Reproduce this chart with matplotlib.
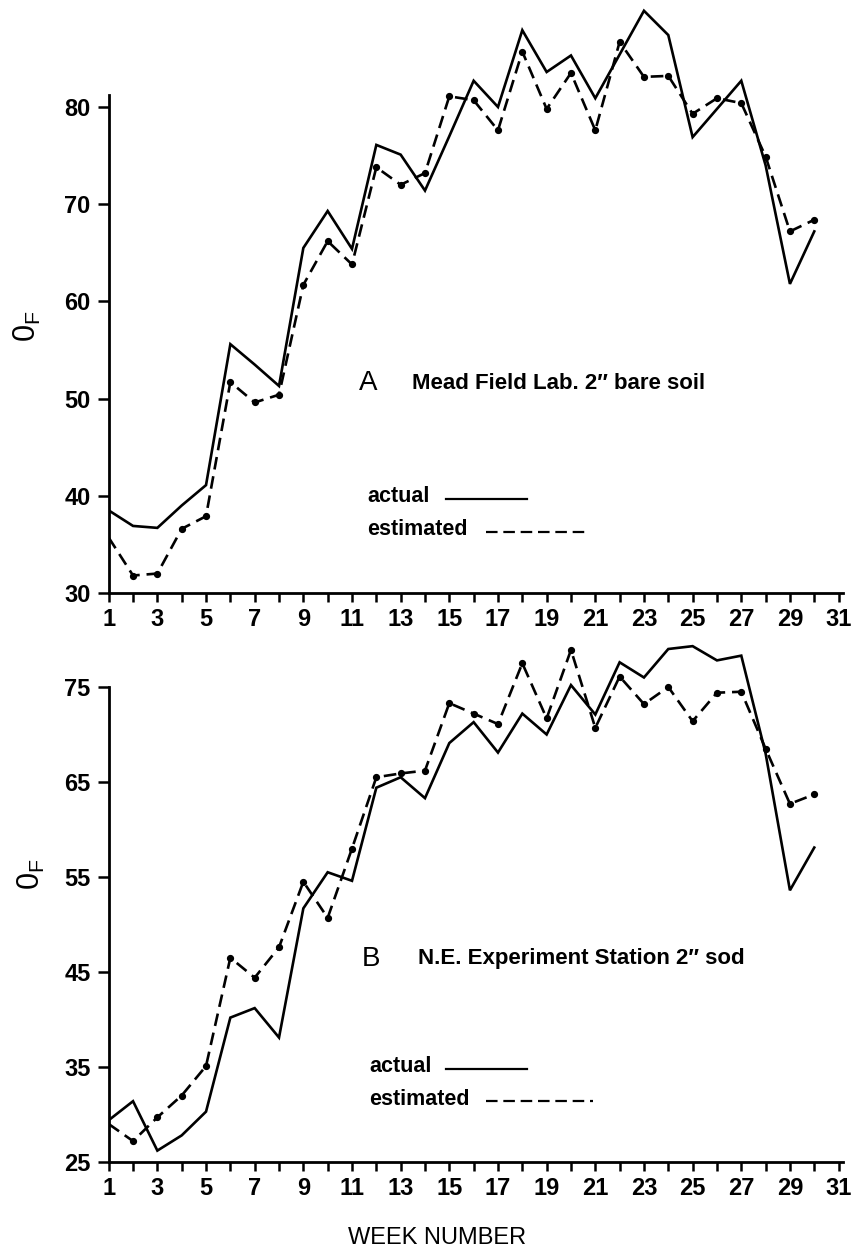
import matplotlib
matplotlib.use("Agg")
import matplotlib.pyplot as plt

plt.rcParams['font.family'] = ['Liberation Sans', 'DejaVu Sans']

# week numbers and soil temperatures (deg F)
weeks = list(range(1, 31))

mead_actual = [38.5, 36.9, 36.7, 39.0, 41.1, 55.6, 53.5, 51.3, 65.5, 69.3,
               65.4, 76.1, 75.1, 71.4, 77.0, 82.7, 80.0, 87.9, 83.6, 85.3,
               80.9, 85.4, 89.9, 87.4, 76.9, 79.8, 82.7, 74.0, 61.8, 67.2]
mead_estimated = [35.7, 31.8, 32.0, 36.6, 37.9, 51.7, 49.6, 50.4, 61.7, 66.2,
                  63.8, 73.8, 72.0, 73.2, 81.1, 80.7, 77.6, 85.7, 79.8, 83.5,
                  77.6, 86.7, 83.1, 83.2, 79.3, 80.9, 80.4, 74.9, 67.2, 68.4]

ne_actual = [29.4, 31.4, 26.2, 27.8, 30.3, 40.2, 41.2, 38.1, 51.7, 55.5,
             54.6, 64.4, 65.5, 63.3, 69.1, 71.3, 68.1, 72.2, 70.0, 75.2,
             72.1, 77.6, 76.0, 79.0, 79.3, 77.8, 78.3, 68.0, 53.6, 58.1]
ne_estimated = [29.0, 27.2, 29.7, 32.0, 35.1, 46.5, 44.4, 47.6, 54.5, 50.7,
                58.0, 65.5, 65.9, 66.2, 73.3, 72.2, 71.1, 77.5, 71.7, 78.9,
                70.7, 76.1, 73.2, 75.0, 71.4, 74.4, 74.5, 68.5, 62.7, 63.7]

x_ticks = list(range(1, 32))
x_labels = [str(w) if w % 2 == 1 else '' for w in x_ticks]
top_yticks = [30, 40, 50, 60, 70, 80]
bottom_yticks = [25, 35, 45, 55, 65, 75]

W, H = 855, 1254
fig = plt.figure(figsize=(W / 100, H / 100), dpi=100)
fig.patch.set_facecolor('white')

left = 108.7 / W
width = 30.2 * 24.33 / W


def style_axis(ax, yticks, spine_top):
    ax.set_xlim(1, 31.2)
    for s in ('top', 'right'):
        ax.spines[s].set_visible(False)
    ax.spines['left'].set_linewidth(2.0)
    ax.spines['bottom'].set_linewidth(2.0)
    ax.spines['left'].set_bounds(yticks[0], spine_top)
    ax.spines['bottom'].set_bounds(1, 31.2)
    ax.set_xticks(x_ticks)
    ax.set_xticklabels(x_labels)
    ax.set_yticks(yticks)
    ax.tick_params(axis='x', direction='out', length=6.5, width=1.8, pad=4,
                   labelsize=17)
    ax.tick_params(axis='y', direction='out', length=8, width=1.8, pad=5,
                   labelsize=17)
    for lab in ax.get_xticklabels() + ax.get_yticklabels():
        lab.set_fontweight('bold')


def draw_panel(ax, actual, estimated, letter, title, pos):
    ax.plot(weeks, actual, color='black', lw=1.9, solid_joinstyle='miter')
    ax.plot(weeks, estimated, color='black', lw=1.9, linestyle='--',
            dashes=(4.8, 2.6), marker='o', markersize=4.2,
            markevery=slice(1, None))
    ax.text(pos['letter_x'], pos['letter_y'], letter, fontsize=20,
            ha='left', va='center')
    ax.text(pos['title_x'], pos['letter_y'], title, fontsize=16,
            fontweight='bold', ha='left', va='center')
    # hand-made key: label first, then the line sample
    ax.text(pos['key_x'], pos['key_y'][0], 'actual', fontsize=15.5,
            fontweight='bold', ha='left', va='center')
    ax.text(pos['key_x'], pos['key_y'][1], 'estimated', fontsize=15.5,
            fontweight='bold', ha='left', va='center')
    ax.plot(pos['solid_x'], [pos['key_y'][0] - 0.2] * 2, color='black',
            lw=1.6)
    ax.plot(pos['dash_x'], [pos['key_y'][1] - 0.2] * 2, color='black',
            lw=1.6, linestyle='--', dashes=(5.2, 2.6))
    ax.text(pos['ylab_x'], pos['ylab_y'], r'$\mathregular{0_F}$',
            transform=ax.transAxes, rotation=90, fontsize=22,
            ha='center', va='center')


# Panel A: Mead Field Lab
ax1 = fig.add_axes([left, 1 - 593 / H, width, 61 * 9.72 / H])
ax1.set_ylim(30, 91)
style_axis(ax1, top_yticks, 81.2)
draw_panel(ax1, mead_actual, mead_estimated, 'A',
           'Mead Field Lab. 2\u2033 bare soil',
           dict(letter_x=11.3, letter_y=51.6, title_x=13.47,
                key_x=11.62, key_y=(39.9, 36.5),
                solid_x=(14.85, 18.2), dash_x=(16.5, 20.8),
                ylab_x=-0.11, ylab_y=0.45))

# Panel B: N.E. Experiment Station
ax2 = fig.add_axes([left, 1 - 1162 / H, width, 56 * 9.5 / H])
ax2.set_ylim(25, 81)
style_axis(ax2, bottom_yticks, 75)
draw_panel(ax2, ne_actual, ne_estimated, 'B',
           'N.E. Experiment Station 2\u2033 sod',
           dict(letter_x=11.4, letter_y=46.4, title_x=13.7,
                key_x=11.7, key_y=(35.0, 31.6),
                solid_x=(14.85, 18.2), dash_x=(16.5, 20.9),
                ylab_x=-0.105, ylab_y=0.54))

fig.text(437 / W, 1 - 1238 / H, 'WEEK NUMBER', fontsize=17,
         ha='center', va='center')

fig.savefig('out.png', dpi=100, facecolor='white')
